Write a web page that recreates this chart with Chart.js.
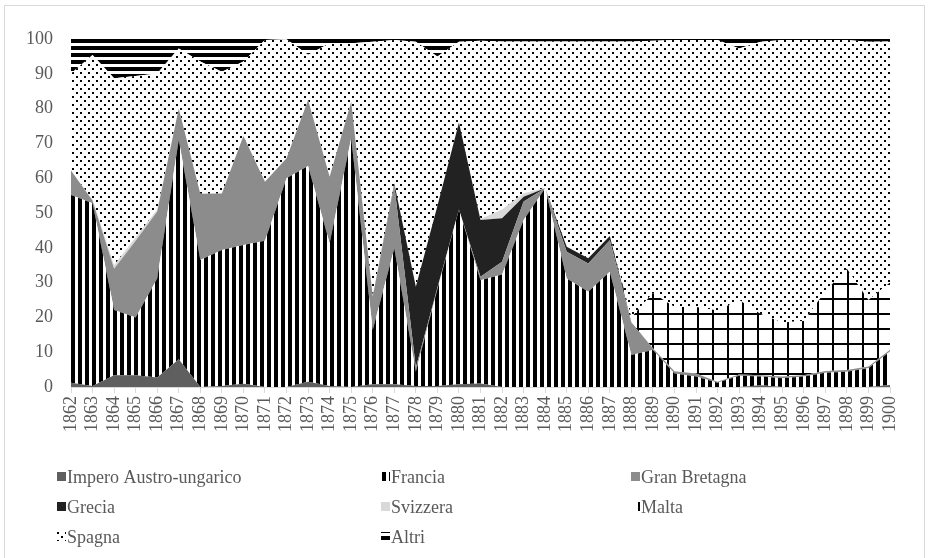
<!DOCTYPE html>
<html>
<head>
<meta charset="utf-8">
<script src="https://cdn.jsdelivr.net/npm/chart.js@4.4.1/dist/chart.umd.min.js"></script>
<style>
  body { margin: 0; background: #fff; }
  canvas { display: block; }
</style>
</head>
<body>
<canvas id="grafico" width="928" height="558"></canvas>
<script>
const anni = [];
for (let a = 1862; a <= 1900; a++) anni.push(String(a));

// quote percentuali per paese (1862-1900)
const impero = [1.2, 0.3, 3.4, 3.4, 2.7, 8, 0, 0.3, 0.9, 0, 0, 1.5, 0.3, 0, 0.8, 0.8, 0.3, 0.3, 0.8, 1,
  0, 0, 0, 0, 0, 0, 0, 0, 0, 0, 0, 0, 0.5, 0, 0, 0, 0, 0, 0.6];
const francia = [54, 52.5, 18.7, 16.6, 28.5, 63, 36.5, 39.1, 39.9, 42, 60, 62, 41, 71.5, 15.6, 39, 4.1, 27.7, 50.1, 29.7,
  32.3, 48, 57.1, 31.2, 27.4, 33.1, 9.2, 10.6, 3.9, 3, 1.2, 3.2, 2.5, 2.5, 3, 4.1, 4.4, 5.4, 9.6];
const granBretagna = [7, 0.7, 11.9, 22, 19.2, 9, 19, 16.2, 31.3, 17, 5.7, 19, 19.1, 10.5, 9.6, 18.2, 1.1, 0.5, 0.1, 1,
  3.7, 5.3, 0, 7.7, 8.1, 9.1, 9.1, 0.5, 0.6, 0.9, 0.3, 0.4, 0.4, 0.5, 0.4, 0.5, 0.5, 0.5, 0.5];
const grecia = [0, 0, 0, 0, 0, 0, 0, 0, 0, 0, 0, 0, 0, 0, 0, 0.5, 23.3, 23.5, 25, 16.3,
  12.5, 1.4, 0, 1.4, 1.5, 1.2, 0.2, 0, 0, 0, 0, 0, 0, 0, 0, 0, 0, 0, 0];
const svizzera = [0, 0.3, 1, 1, 0.6, 0, 0, 0, 0, 0, 0, 0, 0, 0, 0, 0, 0, 0, 0, 0.3,
  2.5, 1, 0.1, 0, 0, 0, 0, 0, 0, 0, 0, 0, 0, 0, 0, 0, 0, 0, 0];
const malta = [0, 0, 0, 0, 0, 0, 0, 0, 0, 0, 0, 0, 0, 0, 0, 0, 0, 0, 0, 0,
  0, 0, 0, 0, 0, 0, 1.5, 15.9, 18.5, 19.1, 20.5, 21.4, 17.6, 15.5, 15.6, 22.9, 29.1, 19.1, 19.3];
const spagna = [27.9, 41.6, 53.7, 46.4, 39.1, 17.3, 38, 35, 21.4, 40.7, 34.2, 13, 38.4, 16.8, 73.2, 41.2, 70.4, 43, 23.2, 51.2,
  48.3, 43.6, 42.1, 59, 62.3, 55.9, 79.3, 72.5, 76.7, 76.7, 77.7, 72.3, 78.2, 81.2, 80.7, 72.2, 65.7, 74.2, 69.3];
const altri = [9.9, 4.6, 11.3, 10.6, 9.9, 2.7, 6.5, 9.4, 6.5, 0.3, 0.1, 4.5, 1.2, 1.2, 0.8, 0.3, 0.8, 5, 0.8, 0.5,
  0.7, 0.7, 0.7, 0.7, 0.7, 0.7, 0.7, 0.5, 0.3, 0.3, 0.3, 2.7, 0.8, 0.3, 0.3, 0.3, 0.3, 0.8, 0.7];

const yTicks = [0, 10, 20, 30, 40, 50, 60, 70, 80, 90, 100];

const ctx = document.getElementById('grafico').getContext('2d');

function creaPattern(w, h, disegna) {
    const c = document.createElement('canvas');
    c.width = w;
    c.height = h;
    const g = c.getContext('2d');
    g.fillStyle = '#ffffff';
    g.fillRect(0, 0, w, h);
    g.fillStyle = '#000000';
    disegna(g);
    return ctx.createPattern(c, 'repeat');
}

// i motivi sono allineati all'origine del canvas
const righeVerticali = creaPattern(7, 7, g => g.fillRect(1, 0, 4, 7));
const righeOrizzontali = creaPattern(7, 7, g => { g.fillRect(0, 4, 7, 3); g.fillRect(0, 0, 7, 1); });
const puntini = creaPattern(8, 8, g => { g.fillRect(0, 0, 2, 2); g.fillRect(4, 4, 2, 2); });
const griglia = creaPattern(15, 15, g => { g.fillRect(7, 0, 2, 15); g.fillRect(0, 13, 15, 2); });

const serie = [
    { label: 'Impero Austro-ungarico', data: impero, colore: '#5f5f5f' },
    { label: 'Francia', data: francia, colore: righeVerticali },
    { label: 'Gran Bretagna', data: granBretagna, colore: '#8c8c8c' },
    { label: 'Grecia', data: grecia, colore: '#222222' },
    { label: 'Svizzera', data: svizzera, colore: '#d9d9d9' },
    { label: 'Malta', data: malta, colore: griglia },
    { label: 'Spagna', data: spagna, colore: puntini },
    { label: 'Altri', data: altri, colore: righeOrizzontali }
];

// legenda a tre colonne, come nell'originale
const legendaGriglia = {
    id: 'legendaGriglia',
    beforeDraw(chart) {
        const c = chart.ctx;
        c.save();
        c.strokeStyle = '#d9d9d9';
        c.lineWidth = 1;
        c.strokeRect(4.5, 5.5, 920, 600);
        c.restore();
    },
    afterDraw(chart) {
        const c = chart.ctx;
        const colonne = [57, 381, 631];
        const righe = [477, 507, 537];
        c.save();
        c.font = '18px "Liberation Serif", "Times New Roman", serif';
        c.textBaseline = 'middle';
        c.fillStyle = '#595959';
        chart.data.datasets.forEach((ds, i) => {
            const x = colonne[i % 3];
            const y = righe[Math.floor(i / 3)];
            c.save();
            c.translate(x, y - 5);
            c.fillStyle = ds.backgroundColor;
            c.fillRect(0, 0, 9, 9);
            c.restore();
            c.fillText(ds.label, x + 10, y + 1);
        });
        c.restore();
    }
};

new Chart(ctx, {
    type: 'line',
    data: {
        labels: anni,
        datasets: serie.map((s, i) => ({
            label: s.label,
            data: s.data,
            backgroundColor: s.colore,
            borderColor: 'rgba(0,0,0,0)',
            borderWidth: 0,
            pointRadius: 0,
            tension: 0,
            fill: i === 0 ? 'origin' : '-1'
        }))
    },
    options: {
        responsive: false,
        animation: false,
        layout: { padding: { top: 39, right: 38, left: 0, bottom: 0 } },
        plugins: {
            legend: { display: false },
            tooltip: { enabled: false }
        },
        scales: {
            x: {
                offset: false,
                grid: { drawOnChartArea: false, drawTicks: true, tickLength: 6, color: '#d9d9d9' },
                border: { color: '#d9d9d9' },
                ticks: {
                    autoSkip: false,
                    minRotation: 90,
                    maxRotation: 90,
                    padding: 3,
                    color: '#595959',
                    font: { family: '"Liberation Serif", "Times New Roman", serif', size: 18 }
                },
                afterFit: scale => { scale.height = 171; }
            },
            y: {
                stacked: true,
                min: 0,
                max: 100,
                grid: { display: false, drawTicks: false },
                border: { display: false },
                afterBuildTicks: scale => { scale.ticks = yTicks.map(v => ({ value: v })); },
                ticks: {
                    padding: 18,
                    color: '#595959',
                    font: { family: '"Liberation Serif", "Times New Roman", serif', size: 18 }
                },
                afterFit: scale => { scale.width = 71; }
            }
        }
    },
    plugins: [legendaGriglia]
});
</script>
</body>
</html>
